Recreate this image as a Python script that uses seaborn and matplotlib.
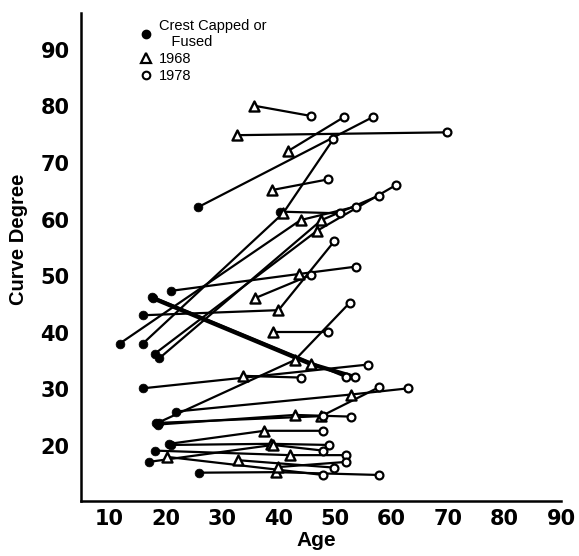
import numpy as np
import pandas as pd
import matplotlib
matplotlib.use("Agg")
import matplotlib.pyplot as plt
from matplotlib.lines import Line2D
import seaborn as sns

nan = np.nan
# Per-subject values: (age, curve degree) when crest capped/fused, in 1968 and in 1978
crest_age = [nan, nan, nan, 25.8, 16.0, nan, 40.2, 11.9, 18.9, 18.1, 20.9, 16.0, nan, 17.8, 17.6,
             18.4, nan, 16.0, nan, 21.9, 18.6, 18.9, nan, 20.9, 20.7, 17.0, 18.1, nan, nan, 25.9, nan]
crest_deg = [nan, nan, nan, 62.2, 38.1, nan, 61.4, 38.1, 35.5, 36.3, 47.4, 43.1, nan, 46.1, 46.4,
             24.0, nan, 30.2, nan, 26.1, 23.8, 24.1, nan, 20.2, 20.4, 17.2, 19.2, nan, nan, 15.3, nan]
y1968_age = [35.7, 32.7, 41.7, nan, 40.8, 38.8, nan, 43.9, 47.6, 46.8, 43.7, 40.0, 35.8, 45.7, nan,
             42.9, 39.0, nan, 33.8, 52.8, 42.9, nan, 47.6, 38.6, 37.5, 39.0, 42.0, 20.2, 32.9, 39.6, 40.0]
y1968_deg = [80.1, 74.9, 72.1, nan, 61.1, 65.2, nan, 59.9, 59.9, 58.0, 50.4, 44.0, 46.1, 34.5, nan,
             35.2, 40.2, nan, 32.4, 29.1, 25.5, nan, 25.3, 20.4, 22.7, 20.2, 18.4, 18.1, 17.5, 15.4, 16.3]
y1978_age = [45.7, 69.8, 51.6, 56.7, 49.7, 48.8, 50.8, 53.7, 57.7, 60.8, 53.8, 49.9, 45.7, 53.5, 51.9,
             52.6, 48.8, 55.9, 43.9, 63.0, 52.9, 47.9, 57.8, 48.9, 47.8, 47.9, 51.9, 47.9, 49.8, 57.7, 51.9]
y1978_deg = [78.3, 75.4, 78.1, 78.1, 74.2, 67.1, 61.1, 62.3, 64.2, 66.1, 51.7, 56.2, 50.2, 32.2, 32.2,
             45.3, 40.2, 34.4, 32.1, 30.2, 25.2, 25.3, 30.4, 20.2, 22.7, 19.2, 18.4, 14.9, 16.2, 14.9, 17.2]

x_ticks = [10, 20, 30, 40, 50, 60, 70, 80, 90]
y_ticks = [20, 30, 40, 50, 60, 70, 80, 90]

rows = []
for i in range(len(crest_age)):
    for stage, a, d in (("crest", crest_age[i], crest_deg[i]),
                        ("1968", y1968_age[i], y1968_deg[i]),
                        ("1978", y1978_age[i], y1978_deg[i])):
        if not np.isnan(a):
            rows.append({"subject": i, "stage": stage, "age": a, "degree": d})
df = pd.DataFrame(rows)

sns.set_theme(style="white")
plt.rcParams["font.family"] = ["Liberation Sans", "DejaVu Sans"]
for key in ("text.color", "axes.labelcolor", "xtick.color", "ytick.color", "axes.edgecolor"):
    plt.rcParams[key] = "black"

fig = plt.figure(figsize=(5.79, 5.56), dpi=100)
ax = fig.add_axes([0.1394, 0.0989, 0.8296, 0.878])

sns.lineplot(data=df, x="age", y="degree", units="subject", estimator=None, sort=False,
             color="black", linewidth=1.6, ax=ax, legend=False)
# the highlighted thick trajectory
thick = df[df.subject == 13]
sns.lineplot(data=thick, x="age", y="degree", estimator=None, sort=False,
             color="black", linewidth=3.0, ax=ax, legend=False)

crest = df[df.stage == "crest"]
s68 = df[df.stage == "1968"]
s78 = df[df.stage == "1978"]
sns.scatterplot(data=crest, x="age", y="degree", marker="o", s=40, color="black",
                edgecolor="black", linewidth=0.5, ax=ax, legend=False, zorder=3)
sns.scatterplot(data=s68, x="age", y="degree", marker="^", s=52, facecolor="white",
                edgecolor="black", linewidth=1.7, ax=ax, legend=False, zorder=3)
sns.scatterplot(data=s78, x="age", y="degree", marker="o", s=32, facecolor="white",
                edgecolor="black", linewidth=1.6, ax=ax, legend=False, zorder=3)

tick_font = {"family": ["DejaVu Sans"], "size": 15, "weight": "bold", "color": "black"}
ax.set_xlim(5, 90)
ax.set_ylim(10.3, 96.5)
ax.set_xticks(x_ticks)
ax.set_yticks(y_ticks)
ax.set_xticklabels([str(t) for t in x_ticks], fontdict=tick_font)
ax.set_yticklabels([str(t) for t in y_ticks], fontdict=tick_font)
ax.tick_params(axis="both", direction="in", length=6, width=1.8, color="black",
               labelcolor="black")
ax.tick_params(axis="x", pad=6)
ax.tick_params(axis="y", pad=8)
for side in ("top", "right"):
    ax.spines[side].set_visible(False)
for side in ("left", "bottom"):
    ax.spines[side].set_color("black")
    ax.spines[side].set_linewidth(1.8)
ax.set_xlabel("Age", fontsize=15, fontweight="bold", color="black")
ax.set_ylabel("Curve Degree", fontsize=14.5, fontweight="bold", color="black")
ax.xaxis.set_label_coords(0.49, -0.062)
ax.yaxis.set_label_coords(-0.11, 0.537)

handles = [
    Line2D([], [], marker="o", linestyle="none", markersize=6, color="black"),
    Line2D([], [], marker="^", linestyle="none", markersize=6.5, markerfacecolor="white",
           markeredgecolor="black", markeredgewidth=1.6),
    Line2D([], [], marker="o", linestyle="none", markersize=5.5, markerfacecolor="white",
           markeredgecolor="black", markeredgewidth=1.5),
]
labels = ["Crest Capped or\n   Fused", "1968", "1978"]
leg = ax.legend(handles, labels, loc="upper left", bbox_to_anchor=(0.108, 1.0), frameon=False,
                fontsize=10.5, handletextpad=0.4, labelspacing=0.22, handlelength=1.0,
                borderaxespad=0)
for t in leg.get_texts():
    t.set_color("black")

fig.savefig("out.png", dpi=100, facecolor="white")
